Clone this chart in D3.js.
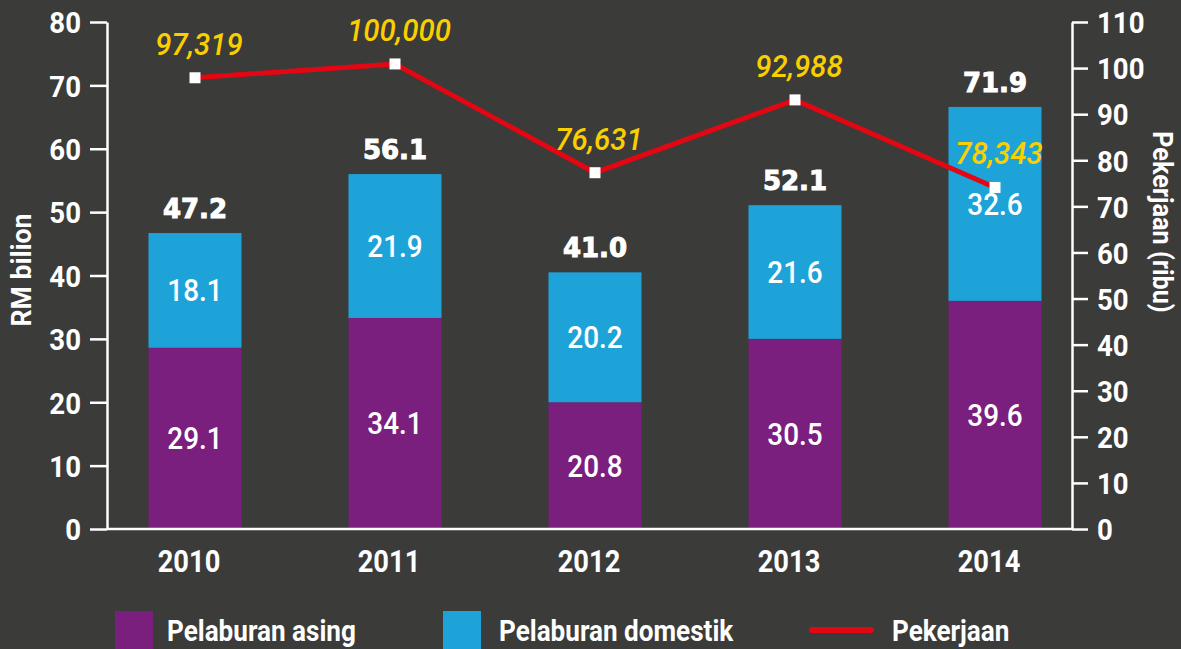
<html>
<script src='https://d3js.org/d3.v7.min.js'></script>
<head>
    <style>
        body { margin: 0; background: #3b3b3a; }
        svg { display: block; }
        text { font-family: "Roboto", "DejaVu Sans", sans-serif; }
    </style>
</head>
<body onload='init()'>
<svg width=1181 height=649></svg>
<script>
// data
const years = ["2010", "2011", "2012", "2013", "2014"];
const asingBar = [28.6, 33.3, 20.0, 30.0, 36.0];      // bar heights as drawn
const domestikBar = [18.1, 22.7, 20.5, 21.1, 30.6];
const asingLabel = ["29.1", "34.1", "20.8", "30.5", "39.6"];
const domestikLabel = ["18.1", "21.9", "20.2", "21.6", "32.6"];
const totalLabel = ["47.2", "56.1", "41.0", "52.1", "71.9"];
const pekerjaan = [97.9, 100.9, 77.3, 93.1, 74.1];   // marker heights as drawn (ribu)
const pekerjaanLabel = ["97,319", "100,000", "76,631", "92,988", "78,343"];
const leftTicks = [0, 10, 20, 30, 40, 50, 60, 70, 80];
const rightTicks = [0, 10, 20, 30, 40, 50, 60, 70, 80, 90, 100, 110];

// text squeezed horizontally, the original uses a condensed face
function addText(parent, x, y, str, size, sx, rot) {
    return parent.append("text")
        .attr("transform", "translate(" + x + "," + y + ")" + (rot ? " rotate(" + rot + ")" : "") + " scale(" + sx + ",1)")
        .style("font-size", size + "px")
        .style("fill", "#fff")
        .text(str);
}

function init() {
    const purple = "#7b1f7e";
    const blue = "#1ea3d9";
    const red = "#e30613";
    const yellow = "#f9cf00";
    const axisLeftX = 107, axisRightX = 1072;
    const top = 22, bottom = 529;

    var svg = d3.select("svg");

    svg.append("rect").attr("width", 1181).attr("height", 649).style("fill", "#3b3b3a");

    var x = d3.scaleBand()
        .domain(years)
        .range([95, 1095])
        .paddingInner(0.535)
        .paddingOuter(0.2675);

    var y = d3.scaleLinear().domain([0, 80]).range([bottom, top]);
    var y2 = d3.scaleLinear().domain([0, 110]).range([bottom, top]);

    // bars
    var g = svg.append("g");
    years.forEach(function (yr, i) {
        g.append("rect")
            .attr("x", x(yr))
            .attr("y", y(asingBar[i]))
            .attr("width", x.bandwidth())
            .attr("height", y(0) - y(asingBar[i]))
            .style("fill", purple);
        g.append("rect")
            .attr("x", x(yr))
            .attr("y", y(asingBar[i] + domestikBar[i]))
            .attr("width", x.bandwidth())
            .attr("height", y(asingBar[i]) - y(asingBar[i] + domestikBar[i]))
            .style("fill", blue);

        var cx = x(yr) + x.bandwidth() / 2;
        addText(g, cx, (y(0) + y(asingBar[i])) / 2 + 11, asingLabel[i], 31, 0.9)
            .attr("text-anchor", "middle").style("font-weight", 500);
        addText(g, cx, (y(asingBar[i]) + y(asingBar[i] + domestikBar[i])) / 2 + 11, domestikLabel[i], 31, 0.9)
            .attr("text-anchor", "middle").style("font-weight", 500);
        addText(g, cx, y(asingBar[i] + domestikBar[i]) - 15, totalLabel[i], 26, 1)
            .attr("text-anchor", "middle")
            .style("font-family", "DejaVu Sans").style("font-weight", "bold")
            .style("stroke", "#fff").style("stroke-width", 1);
    });

    // left axis
    var yAxis = svg.append("g")
        .attr("transform", "translate(" + axisLeftX + ",0)")
        .call(d3.axisLeft(y).tickValues(leftTicks).tickSize(17).tickSizeOuter(0).tickPadding(9));
    // right axis
    var y2Axis = svg.append("g")
        .attr("transform", "translate(" + axisRightX + ",0)")
        .call(d3.axisRight(y2).tickValues(rightTicks).tickSize(16).tickSizeOuter(0).tickPadding(9));

    [yAxis, y2Axis].forEach(function (a) {
        a.selectAll("path, line").style("stroke", "#fff").style("stroke-width", 2.5);
        a.selectAll("text")
            .attr("x", function () { return +d3.select(this).attr("x") / 0.92; })
            .attr("transform", "scale(0.92,1)")
            .style("font-size", "30px").style("font-weight", "bold")
            .style("fill", "#fff").attr("dy", "0.36em");
    });

    // baseline
    svg.append("line")
        .attr("x1", axisLeftX).attr("x2", axisRightX)
        .attr("y1", y(0)).attr("y2", y(0))
        .style("stroke", "#fff").style("stroke-width", 2.5);

    // x axis labels
    var xAxis = svg.append("g")
        .attr("transform", "translate(-6," + (bottom + 3) + ")")
        .call(d3.axisBottom(x).tickSize(0).tickPadding(18));
    xAxis.select(".domain").remove();
    xAxis.selectAll("text")
        .attr("transform", "scale(0.88,1)")
        .style("font-size", "31px").style("font-weight", "bold").style("fill", "#fff");

    // line
    var line = d3.line()
        .x(function (d, i) { return x(years[i]) + x.bandwidth() / 2; })
        .y(function (d) { return y2(d); });

    svg.append("path")
        .datum(pekerjaan)
        .attr("d", line)
        .style("fill", "none")
        .style("stroke", red)
        .style("stroke-width", 5);

    svg.selectAll(".marker")
        .data(pekerjaan)
        .enter()
        .append("rect")
        .attr("class", "marker")
        .attr("x", function (d, i) { return x(years[i]) + x.bandwidth() / 2 - 5.5; })
        .attr("y", function (d) { return y2(d) - 5.5; })
        .attr("width", 11).attr("height", 11)
        .style("fill", "#fff");

    pekerjaan.forEach(function (d, i) {
        addText(svg, x(years[i]) + x.bandwidth() / 2 + 4, y2(d) - 23, pekerjaanLabel[i], 32, 0.92)
            .attr("text-anchor", "middle")
            .style("font-style", "italic").style("font-weight", 500)
            .style("fill", yellow);
    });

    // axis titles
    addText(svg, 31, 270, "RM bilion", 28, 0.95, -90)
        .attr("text-anchor", "middle").style("font-weight", "bold");
    addText(svg, 1153, 222, "Pekerjaan (ribu)", 28, 0.9, 90)
        .attr("text-anchor", "middle").style("font-weight", "bold");

    // legend
    var legend = svg.append("g");
    legend.append("rect").attr("x", 115).attr("y", 611).attr("width", 38).attr("height", 40).style("fill", purple);
    addText(legend, 167, 641, "Pelaburan asing", 29, 0.9).style("font-weight", "bold");
    legend.append("rect").attr("x", 443).attr("y", 611).attr("width", 38).attr("height", 40).style("fill", blue);
    addText(legend, 499, 641, "Pelaburan domestik", 29, 0.9).style("font-weight", "bold");
    legend.append("line").attr("x1", 812).attr("x2", 871).attr("y1", 630).attr("y2", 630)
        .style("stroke", red).style("stroke-width", 6).style("stroke-linecap", "round");
    addText(legend, 892, 641, "Pekerjaan", 29, 0.9).style("font-weight", "bold");
}
</script>
</body>
</html>
